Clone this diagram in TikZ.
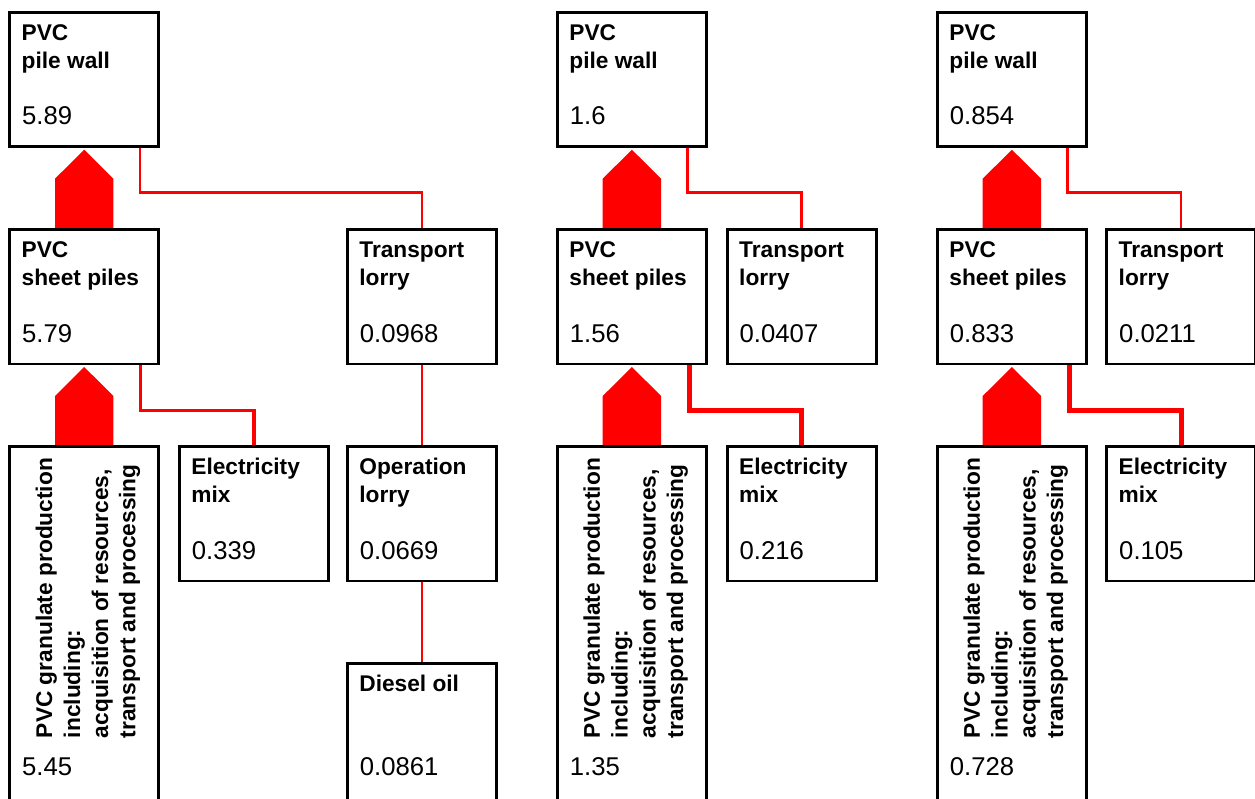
\documentclass[tikz,border=0pt]{standalone}
\usepackage{fontspec}
\setmainfont{Liberation Sans}
\usetikzlibrary{calc,backgrounds}
\tikzset{
  pbox/.style={draw=black, line width=2.8pt, rectangle, minimum width=149pt, inner sep=0pt, outer sep=0pt},
  lbl/.style={anchor=base west, inner sep=0pt, outer sep=0pt, font=\bfseries\fontsize{22.7}{28}\selectfont},
  rlbl/.style={lbl, rotate=90},
  num/.style={anchor=base west, inner sep=0pt, outer sep=0pt, font=\fontsize{25.7}{30}\selectfont},
  conn/.style={draw=red, line width=2.5pt},
  connb/.style={draw=red, line width=3.5pt},
  connc/.style={draw=red, line width=5pt},
}
% box with two label lines and a value; #1 name, #2 x, #3 y (top-left border centre)
\newcommand\pboxtwo[6]{%
  \node[pbox, minimum height=134.6pt] (#1) at (#2+74.5, #3+67.3) {};
  \node[lbl] (#1-a) at (#2+12, #3+28) {#4};
  \node[lbl] (#1-b) at (#2+12, #3+56) {#5};
  \node[num] (#1-v) at (#2+12.5, #3+112.6) {#6};
}
\newcommand\granbox[4]{%
  \node[pbox, minimum height=356pt] (#1) at (#2+74.5, #3+178) {};
  \node[rlbl] (#1-a) at (#2+42.5, 738) {PVC granulate production};
  \node[rlbl] (#1-b) at (#2+70.3, 738) {including:};
  \node[rlbl] (#1-c) at (#2+98.3, 738) {acquisition of resources,};
  \node[rlbl] (#1-d) at (#2+125.6, 738) {transport and processing};
  \node[num] (#1-v) at (#2+12.5, 775) {#4};
}
\newcommand\bigarrow[2]{%
  \fill[red] ($(#1.north)+(-29.2,0)$) -- ($(#2.south)+(-29.2,32)$) -- ($(#2.south)+(0,3)$)
    -- ($(#2.south)+(29.2,32)$) -- ($(#1.north)+(29.2,0)$) -- cycle;
}
\begin{document}
\begin{tikzpicture}[x=1pt, y=-1pt]
\useasboundingbox (0,0) rectangle (1255,798);
% ---------- tree 1 ----------
\pboxtwo{pwA}{9.7}{12.1}{PVC}{pile wall}{5.89}
\pboxtwo{spA}{9.7}{229.4}{PVC}{sheet piles}{5.79}
\pboxtwo{tlA}{347.4}{229.4}{Transport}{lorry}{0.0968}
\granbox{grA}{9.7}{446.4}{5.45}
\pboxtwo{emA}{179.4}{446.4}{Electricity}{mix}{0.339}
\pboxtwo{olA}{347.4}{446.4}{Operation}{lorry}{0.0669}
\node[pbox, minimum height=140pt] (doA) at (347.4+74.5, 663.4+70) {};
\node[lbl] (doA-a) at (347.4+12, 663.4+28) {Diesel oil};
\node[num] (doA-v) at (347.4+12.5, 775) {0.0861};
% ---------- tree 2 ----------
\pboxtwo{pwB}{557.4}{12.1}{PVC}{pile wall}{1.6}
\pboxtwo{spB}{557.4}{229.4}{PVC}{sheet piles}{1.56}
\pboxtwo{tlB}{727.2}{229.4}{Transport}{lorry}{0.0407}
\granbox{grB}{557.4}{446.4}{1.35}
\pboxtwo{emB}{727.2}{446.4}{Electricity}{mix}{0.216}
% ---------- tree 3 ----------
\pboxtwo{pwC}{937.4}{12.1}{PVC}{pile wall}{0.854}
\pboxtwo{spC}{937.4}{229.4}{PVC}{sheet piles}{0.833}
\pboxtwo{tlC}{1106.7}{229.4}{Transport}{lorry}{0.0211}
\granbox{grC}{937.4}{446.4}{0.728}
\pboxtwo{emC}{1106.7}{446.4}{Electricity}{mix}{0.105}
% ---------- connectors ----------
\begin{scope}[on background layer]
  \fill[white] (0,0) rectangle (1255,798);
  \bigarrow{spA}{pwA}
  \bigarrow{grA}{spA}
  \bigarrow{spB}{pwB}
  \bigarrow{grB}{spB}
  \bigarrow{spC}{pwC}
  \bigarrow{grC}{spC}
  \draw[conn] ($(pwA.south east)+(-18.7,0)$) -- ++(0,46) -| (tlA.north);
  \draw[connb] ($(spA.south east)+(-18.2,0)$) -- ++(0,46.4) -| (emA.north);
  \draw[conn] (tlA.south) -- (olA.north);
  \draw[conn] (olA.south) -- (doA.north);
  \draw[conn] ($(pwB.south east)+(-18.7,0)$) -- ++(0,46) -| (tlB.north);
  \draw[connc] ($(spB.south east)+(-17.2,0)$) -- ++(0,46.4) -| (emB.north);
  \draw[conn] ($(pwC.south east)+(-18.7,0)$) -- ++(0,46) -| (tlC.north);
  \draw[connc] ($(spC.south east)+(-17.2,0)$) -- ++(0,46.4) -| (emC.north);
\end{scope}
\end{tikzpicture}
\end{document}
